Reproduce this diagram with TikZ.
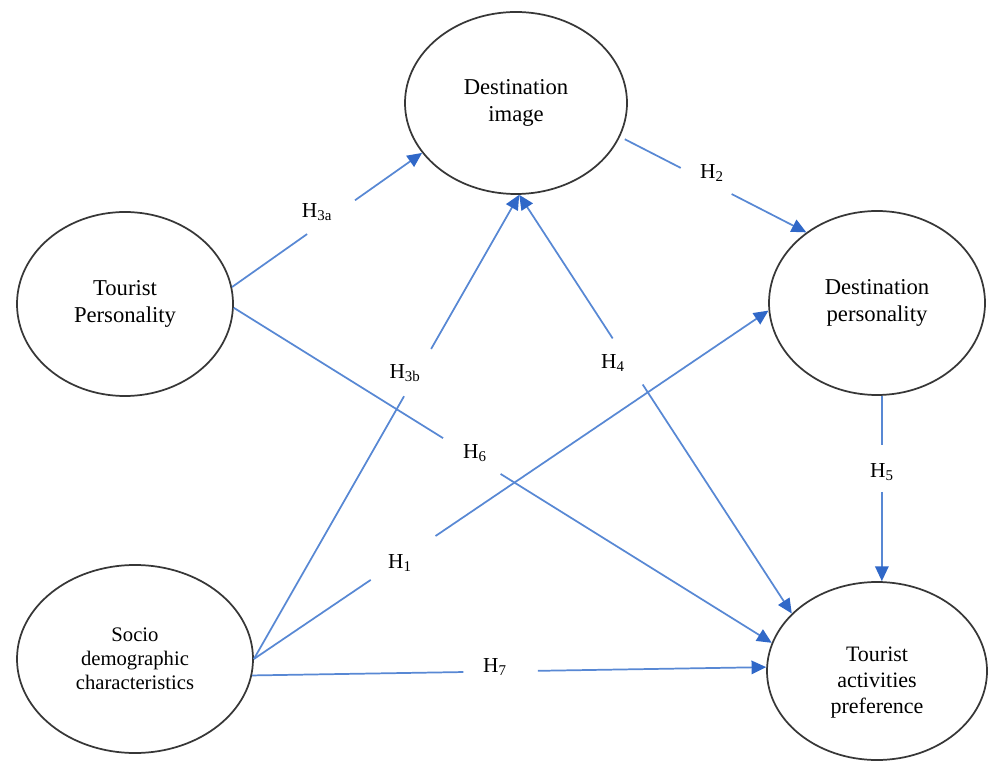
\documentclass[tikz,border=0pt]{standalone}
\usepackage{fontspec}
\setmainfont{Liberation Serif}
\usetikzlibrary{shapes.geometric,arrows.meta}
\definecolor{lineblue}{RGB}{88,136,212}
\definecolor{tipblue}{RGB}{48,104,200}
\definecolor{ellgray}{RGB}{55,55,55}
\begin{document}
\begin{tikzpicture}[x=0.75pt,y=-0.75pt,
  ell/.style={ellipse,draw=ellgray,line width=1.3pt,inner sep=0pt,align=center,font=\fontsize{17}{20}\selectfont},
  conn/.style={draw=lineblue,line width=1.3pt},
  arr/.style={conn,-{Triangle[length=11pt,width=10pt,color=tipblue]}},
  hlbl/.style={inner sep=0pt,font=\fontsize{16}{18}\selectfont}]
\fill[white] (0,0) rectangle (988,762);
\useasboundingbox (0,0) rectangle (988,762);

% constructs
\node[ell,minimum width=166.5pt,minimum height=136.5pt] (DI) at (516,103) {Destination\\image};
\node[ell,minimum width=162pt,minimum height=138pt] (TP) at (125,304) {Tourist\\Personality};
\node[ell,minimum width=162pt,minimum height=138pt] (DP) at (877,303) {Destination\\personality};
\node[ell,minimum width=177pt,minimum height=141pt,font=\fontsize{15.5}{18}\selectfont] (SD) at (135,659) {Socio\\demographic\\characteristics};
\node[ell,minimum width=165pt,minimum height=133.5pt,
  label={[align=center,font=\fontsize{16.5}{19.5}\selectfont,yshift=-9pt]center:Tourist\\activities\\preference}] (TA) at (877,671) {};

% hypothesis labels
\node[hlbl] (h3a) at (317,212) {H\textsubscript{3a}};
\node[hlbl] (h3b) at (405,373) {H\textsubscript{3b}};
\node[hlbl] (h2)  at (712,173) {H\textsubscript{2}};
\node[hlbl] (h4)  at (613,363) {H\textsubscript{4}};
\node[hlbl] (h1)  at (400,563) {H\textsubscript{1}};
\node[hlbl] (h6)  at (475,453) {H\textsubscript{6}};
\node[hlbl] (h5)  at (882,472) {H\textsubscript{5}};
\node[hlbl] (h7)  at (495,667) {H\textsubscript{7}};

% H3a
\path (TP.9) -- (DI.208) coordinate[pos=0.395] (a1) coordinate[pos=0.647] (a2);
\draw[conn] (TP.9) -- (a1);
\draw[arr] (a2) -- (DI.208);
% H3b
\path (SD.east) -- (DI.-88) coordinate[pos=0.566] (b1) coordinate[pos=0.668] (b2);
\draw[conn] (SD.east) -- (b1);
\draw[arr] (b2) -- (DI.-88);
% H2
\path (DI.-18) -- (DP.135) coordinate[pos=0.326] (c1) coordinate[pos=0.599] (c2);
\draw[conn,shorten <=4pt] (DI.-18) -- (c1);
\draw[arr] (c2) -- (DP.135);
% H4 (two-headed)
\path (DI.-88) -- (TA.146) coordinate[pos=0.343] (d1) coordinate[pos=0.453] (d2);
\draw[arr] (d1) -- (DI.-88);
\draw[arr] (d2) -- (TA.146);
% H1
\path (SD.east) -- (DP.184) coordinate[pos=0.227] (e1) coordinate[pos=0.353] (e2);
\draw[conn] (SD.east) -- (e1);
\draw[arr] (e2) -- (DP.184);
% H6
\path (TP.-2) -- (TA.165) coordinate[pos=0.389] (f1) coordinate[pos=0.496] (f2);
\draw[conn] (TP.-2) -- (f1);
\draw[arr] (f2) -- (TA.165);
% H5
\path (DP.-87) -- (DP.-87 |- TA.north) coordinate[pos=0.267] (g1) coordinate[pos=0.519] (g2);
\draw[conn] (DP.-87) -- (g1);
\draw[arr] (g2) -- (DP.-87 |- TA.north);
% H7
\path (SD.-8) -- (TA.178) coordinate[pos=0.411] (k1) coordinate[pos=0.556] (k2);
\draw[conn] (SD.-8) -- (k1);
\draw[arr] (k2) -- (TA.178);
\end{tikzpicture}
\end{document}
